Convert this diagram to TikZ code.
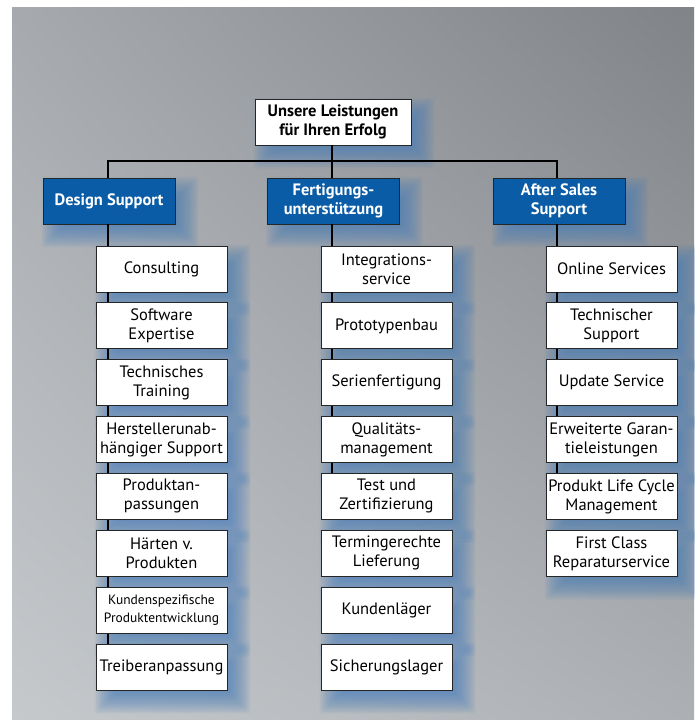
\documentclass[tikz,border=0pt]{standalone}
\usepackage{fontspec}
\setmainfont{PT Sans}
\usetikzlibrary{calc,shadings}

\definecolor{bgTL}{RGB}{166,170,174}
\definecolor{bgTR}{RGB}{128,131,135}
\definecolor{bgBL}{RGB}{198,201,204}
\definecolor{bgBR}{RGB}{172,176,180}
\definecolor{headblue}{RGB}{10,92,166}
\definecolor{glow}{RGB}{72,126,186}

\pgfdeclarelayer{bg}
\pgfdeclarelayer{shade}
\pgfsetlayers{bg,shade,main}

% soft blue drop shadow behind a named node
\newcommand{\softshadow}[1]{%
  \foreach \k in {0,...,15}{%
    \pgfmathsetmacro{\e}{12-24*\k/15}%
    \fill[glow, opacity=0.075, rounded corners=3pt]
      ($(#1.north west)+(11-\e,11-\e)$) rectangle ($(#1.south east)+(11+\e,11+\e)$);
  }%
}

\begin{document}
\begin{tikzpicture}[x=1pt,y=-1pt,
  box/.style={draw=black!85, line width=0.9pt, align=center, inner sep=1pt,
              minimum height=46pt},
  topbox/.style={box, fill=white, minimum width=156pt,
                 font=\bfseries\fontsize{16.5}{19}\selectfont},
  head/.style={box, fill=headblue, text=white, minimum width=132pt,
               font=\bfseries\fontsize{16.5}{19}\selectfont},
  item/.style={box, fill=white, minimum width=131pt,
               font=\fontsize{16.5}{19}\selectfont},
  small/.style={font=\fontsize{13.5}{18}\selectfont},
  link/.style={line width=1.3pt, black}]

\useasboundingbox (0,0) rectangle (694,722);
\begin{pgfonlayer}{bg}
  \fill[white] (0,0) rectangle (694,722);
  \shade[upper left=bgTL, upper right=bgTR, lower left=bgBL, lower right=bgBR]
    (12,8) rectangle (694,719);
\end{pgfonlayer}

% column spines and bus
\coordinate (lx) at (108,0);
\coordinate (mx) at (332,0);
\coordinate (rx) at (557,0);
\coordinate (bus) at (0,161);

% top
\node[topbox] (top) at (333,122) {Unsere Leistungen\\für Ihren Erfolg};

% headings
\node[head] (ds) at (109,201) {Design Support};
\node[head] (fu) at (333.5,201) {Fertigungs-\\unterstützung};
\node[head] (as) at (559,201) {After Sales\\Support};

% left column
\node[item] (l1) at (161.5,269)   {Consulting};
\node[item] (l2) at (161.5,325.9) {Software\\Expertise};
\node[item] (l3) at (161.5,382.7) {Technisches\\Training};
\node[item] (l4) at (161.5,439.6) {Herstellerunab-\\hängiger Support};
\node[item] (l5) at (161.5,496.4) {Produktan-\\passungen};
\node[item] (l6) at (161.5,553.3) {Härten v.\\Produkten};
\node[item,small] (l7) at (161.5,610.1) {Kundenspezifische\\Produktentwicklung};
\node[item] (l8) at (161.5,667)   {Treiberanpassung};

% middle column
\node[item] (m1) at (386.5,269)   {Integrations-\\service};
\node[item] (m2) at (386.5,325.9) {Prototypenbau};
\node[item] (m3) at (386.5,382.7) {Serienfertigung};
\node[item] (m4) at (386.5,439.6) {Qualitäts-\\management};
\node[item] (m5) at (386.5,496.4) {Test und\\Zertifizierung};
\node[item] (m6) at (386.5,553.3) {Termingerechte\\Lieferung};
\node[item] (m7) at (386.5,610.1) {Kundenläger};
\node[item] (m8) at (386.5,667)   {Sicherungslager};

% right column
\node[item] (r1) at (611.5,269)   {Online Services};
\node[item] (r2) at (611.5,325.9) {Technischer\\Support};
\node[item] (r3) at (611.5,382.7) {Update Service};
\node[item] (r4) at (611.5,439.6) {Erweiterte Garan-\\tieleistungen};
\node[item] (r5) at (611.5,496.4) {Produkt Life Cycle\\Management};
\node[item] (r6) at (611.5,553.3) {First Class\\Reparaturservice};

% shadows
\begin{pgfonlayer}{shade}
  \foreach \n in {top,ds,fu,as,l1,l2,l3,l4,l5,l6,l7,l8,m1,m2,m3,m4,m5,m6,m7,m8,r1,r2,r3,r4,r5,r6}{\softshadow{\n}}
\end{pgfonlayer}

% connectors
\draw[link] (top.south -| mx) -- (bus -| mx) -- (fu.north -| mx);
\draw[link] (ds.north -| lx) -- (bus -| lx) -- (bus -| rx) -- (as.north -| rx);

\draw[link] (ds.south -| lx) -- (l1.north -| lx);
\foreach \a/\b in {l1/l2,l2/l3,l3/l4,l4/l5,l5/l6,l6/l7,l7/l8}
  \draw[link] (\a.south -| lx) -- (\b.north -| lx);

\draw[link] (fu.south -| mx) -- (m1.north -| mx);
\foreach \a/\b in {m1/m2,m2/m3,m3/m4,m4/m5}
  \draw[link] (\a.south -| mx) -- (\b.north -| mx);

\draw[link] (as.south -| rx) -- (r1.north -| rx);
\foreach \a/\b in {r1/r2,r2/r3,r3/r4,r4/r5}
  \draw[link] (\a.south -| rx) -- (\b.north -| rx);

\end{tikzpicture}
\end{document}
